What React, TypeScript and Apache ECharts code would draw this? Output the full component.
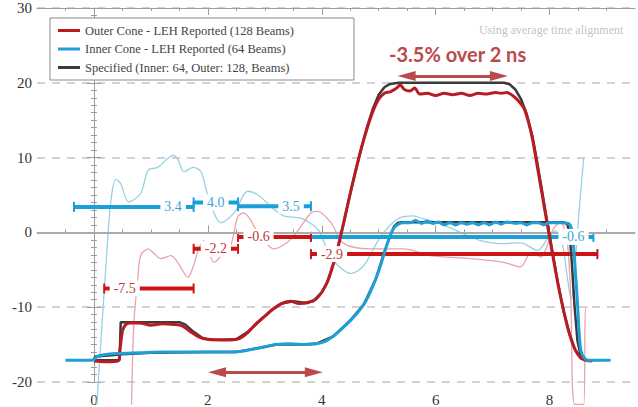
import React, { useEffect, useRef } from "react";
import * as echarts from "echarts";

const OUTER_NAME = "Outer Cone - LEH Reported (128 Beams)";
const INNER_NAME = "Inner Cone - LEH Reported (64 Beams)";
const SPEC_NAME = "Specified (Inner: 64, Outer: 128, Beams)";

const outerMeasured: number[][] = [
  [0.0, -17.2], [0.2, -17.3], [0.42, -17.2], [0.46, -15.5], [0.5, -13.2], [0.56, -12.3], [0.65, -12.1],
  [0.8, -12.1], [1.0, -12.4], [1.2, -12.2], [1.4, -12.3], [1.55, -12.5], [1.7, -13.3], [1.85, -14.0],
  [2.0, -14.3], [2.3, -14.4], [2.55, -14.2], [2.7, -13.4], [2.85, -12.2], [3.0, -11.2], [3.15, -10.2],
  [3.3, -9.5], [3.45, -9.2], [3.6, -9.5], [3.75, -9.4], [3.9, -8.9], [4.0, -8.0], [4.1, -6.6],
  [4.2, -4.3], [4.3, -1.5], [4.4, 1.8], [4.5, 5.2], [4.6, 8.4], [4.7, 11.4], [4.8, 14.0], [4.9, 16.2],
  [5.0, 17.8], [5.1, 18.6], [5.2, 18.8], [5.3, 19.2], [5.38, 19.7], [5.45, 19.1], [5.55, 18.9],
  [5.63, 19.3], [5.72, 18.5], [5.85, 18.6], [6.0, 18.3], [6.15, 18.6], [6.3, 18.4], [6.45, 18.6],
  [6.6, 18.3], [6.75, 18.6], [6.9, 18.5], [7.05, 18.7], [7.15, 18.6], [7.25, 18.7], [7.35, 18.3],
  [7.45, 17.6], [7.55, 16.6], [7.62, 15.0], [7.7, 12.5], [7.78, 9.0], [7.86, 5.5], [7.95, 1.5],
  [8.05, -2.8], [8.15, -7.0], [8.25, -10.6], [8.35, -13.6], [8.45, -15.7], [8.55, -16.8],
  [8.65, -17.1], [8.75, -17.2],
];

const outerSpecified: number[][] = [
  [0.0, -17.1], [0.45, -17.1], [0.47, -12.0], [0.6, -12.0], [1.5, -12.0], [1.6, -12.3], [1.75, -13.3],
  [1.9, -14.1], [2.05, -14.4], [2.5, -14.3], [2.7, -13.3], [2.9, -11.9], [3.1, -10.5], [3.3, -9.5],
  [3.5, -9.2], [3.7, -9.4], [3.85, -9.2], [4.0, -8.0], [4.1, -6.6], [4.2, -4.3], [4.3, -1.5],
  [4.4, 1.8], [4.5, 5.2], [4.6, 8.4], [4.7, 11.4], [4.8, 14.2], [4.9, 16.6], [5.0, 18.4], [5.1, 19.4],
  [5.2, 19.85], [5.35, 20.0], [7.2, 20.0], [7.3, 19.8], [7.4, 19.1], [7.5, 17.8], [7.6, 15.8],
  [7.7, 12.8], [7.78, 9.5], [7.86, 5.9], [7.95, 1.8], [8.05, -2.6], [8.15, -6.9], [8.25, -10.6],
  [8.35, -13.6], [8.45, -15.7], [8.55, -16.8], [8.65, -17.1], [8.75, -17.1],
];

const innerMeasured: number[][] = [
  [-0.5, -17.1], [-0.1, -17.1], [0.0, -17.0], [0.05, -16.6], [0.15, -16.4], [0.4, -16.2], [0.8, -16.1],
  [1.2, -16.0], [1.6, -16.0], [2.0, -16.0], [2.4, -16.0], [2.6, -15.9], [2.8, -15.6], [3.0, -15.3],
  [3.2, -15.0], [3.45, -14.9], [3.7, -15.0], [3.9, -14.9], [4.05, -14.6], [4.2, -13.9], [4.35, -12.9],
  [4.5, -11.8], [4.62, -10.8], [4.74, -9.6], [4.85, -8.0], [4.95, -6.2], [5.05, -4.0], [5.15, -1.5],
  [5.25, 0.4], [5.32, 1.0], [5.42, 1.3], [5.55, 1.3], [5.65, 1.6], [5.75, 1.2], [5.85, 1.5], [5.95, 1.2],
  [6.05, 1.4], [6.15, 1.0], [6.25, 1.3], [6.35, 1.0], [6.45, 1.3], [6.55, 1.1], [6.65, 1.3], [6.75, 1.0],
  [6.85, 1.3], [6.95, 1.0], [7.05, 1.4], [7.15, 1.1], [7.25, 1.4], [7.4, 1.2], [7.5, 1.3], [7.6, 1.0],
  [7.7, 1.3], [7.8, 1.3], [7.9, 1.0], [8.0, 1.3], [8.1, 1.3], [8.2, 1.3], [8.33, 1.2], [8.38, 0.6],
  [8.42, -1.8], [8.46, -6.0], [8.49, -9.5], [8.52, -13.5], [8.55, -15.8], [8.6, -16.7], [8.68, -17.1],
  [9.07, -17.1],
];

const innerSpecified: number[][] = [
  [0.0, -17.1], [0.02, -16.6], [0.2, -16.5], [0.5, -16.3], [1.0, -16.1], [2.0, -16.0], [2.5, -16.0],
  [2.8, -15.6], [3.2, -15.0], [3.6, -15.0], [3.9, -14.9], [4.2, -13.9], [4.5, -11.8], [4.74, -9.6],
  [4.95, -6.2], [5.1, -2.6], [5.2, -0.5], [5.27, 0.8], [5.33, 1.25], [5.4, 1.35], [8.25, 1.35],
  [8.31, 1.1], [8.35, 0.0], [8.39, -4.0], [8.44, -10.0], [8.49, -14.5], [8.55, -16.6], [8.62, -17.1],
];

const innerDeviation: number[][] = [
  [0.05, -23], [0.21, -4.4], [0.3, 4.4], [0.39, 7.1], [0.47, 6.5], [0.61, 4.1], [0.82, 5.2], [0.95, 8.3],
  [1.12, 8.7], [1.39, 10.3], [1.47, 9.8], [1.58, 8.1], [1.74, 8.7], [1.88, 8.1], [2.02, 4.4], [2.23, 1.3],
  [2.46, 2.6], [2.7, 5.5], [2.88, 5.0], [3.16, 3.1], [3.33, 2.2], [3.63, 1.9], [3.81, 1.2], [3.95, 0.2],
  [4.12, -2.7], [4.28, -4.4], [4.51, -5.5], [4.74, -4.4], [5.04, -0.5], [5.33, 1.8], [5.61, 2.2],
  [5.79, 1.8], [6.04, 1.3], [6.26, 0.6], [6.49, -0.2], [6.79, -1.1], [7.14, -1.5], [7.49, -1.4],
  [7.79, -2.4], [7.96, -0.9], [8.1, 0.2], [8.23, -1.8], [8.32, -6.5], [8.38, -9.0], [8.45, -4.0],
  [8.52, 3.0], [8.6, 10.0],
];

const outerDeviation: number[][] = [
  [0.66, -23], [0.7, -12.3], [0.77, -6.1], [0.82, -3.1], [0.95, -2.2], [1.05, -2.8], [1.18, -3.5],
  [1.35, -3.1], [1.47, -4.0], [1.65, -6.0], [1.75, -4.4], [1.84, -2.2], [1.93, -1.1], [2.11, -4.0],
  [2.28, -2.7], [2.4, -1.8], [2.53, 2.2], [2.63, 2.6], [2.88, 0.0], [3.16, -2.2], [3.46, -0.9],
  [3.81, 2.6], [3.93, 2.8], [4.16, 1.3], [4.39, -1.5], [4.86, -2.2], [5.44, -2.2], [5.91, -3.1],
  [6.61, -3.5], [7.19, -4.0], [7.49, -4.6], [7.67, -2.7], [7.84, -3.3], [8.07, 0.5], [8.19, 1.3],
  [8.3, -0.5], [8.37, -8.3], [8.44, -23], [8.6, -23], [8.63, -10.0], [8.67, -10.0],
];

// Segment averages: [start, end, mean]
const innerAverages: number[][] = [
  [-0.35, 1.75, 3.4], [1.75, 2.53, 4.0], [2.53, 3.81, 3.5], [3.81, 8.77, -0.6],
];
const innerLabelAt: number[] = [1.39, 2.14, 3.46, 8.42];
const outerAverages: number[][] = [
  [0.18, 1.75, -7.5], [1.75, 2.53, -2.2], [2.53, 3.81, -0.6], [3.81, 8.84, -2.9],
];
const outerLabelAt: number[] = [0.54, 2.14, 2.89, 4.18];

const xMajorTicks: number[] = [0, 2, 4, 6, 8];
const xMinorTicks: number[] = [-0.5, 0.5, 1, 1.5, 2.5, 3, 3.5, 4.5, 5, 5.5, 6.5, 7, 7.5, 8.5, 9];
const topArrow: number[][] = [[5.49, 20.9], [7.11, 20.9]];
const bottomArrow: number[][] = [[2.16, -18.7], [3.86, -18.7]];

const SERIF = "'Liberation Serif', 'Times New Roman', serif";
const AXIS_GRAY = "#9c9c9c";
const RED = "#b81c22";
const BLUE = "#1e9fd6";
const BLACK = "#3a3a3a";
const LIGHT_RED = "#eba2a8";
const LIGHT_BLUE = "#98d0e4";
const NOTE_RED = "#bb4a4d";

function averageBars(name: string, data: number[][], color: string) {
  return {
    type: "custom",
    name,
    z: 4,
    clip: false,
    data: data,
    encode: { x: [0, 1], y: 2 },
    renderItem: (_params: any, api: any) => {
      const y = api.value(2);
      const a = api.coord([api.value(0), y]);
      const b = api.coord([api.value(1), y]);
      return {
        type: "group",
        children: [
          { type: "line", shape: { x1: a[0], y1: a[1], x2: b[0], y2: b[1] }, style: { stroke: color, lineWidth: 4 } },
          { type: "line", shape: { x1: a[0], y1: a[1] - 5, x2: a[0], y2: a[1] + 5 }, style: { stroke: color, lineWidth: 2 } },
          { type: "line", shape: { x1: b[0], y1: b[1] - 5, x2: b[0], y2: b[1] + 5 }, style: { stroke: color, lineWidth: 2 } },
        ],
      };
    },
  };
}

function averageLabels(name: string, data: number[][], labelAt: number[], textColor: string) {
  return {
    type: "custom",
    name,
    z: 8,
    clip: false,
    data: data.map((d, i) => [labelAt[i], d[2]]),
    encode: { x: 0, y: 1 },
    renderItem: (_params: any, api: any) => {
      const y = api.value(1);
      const c = api.coord([api.value(0), y]);
      return {
        type: "text",
        x: c[0],
        y: c[1],
        style: {
          text: y.toFixed(1),
          fill: textColor,
          fontSize: 14,
          fontFamily: SERIF,
          align: "center",
          verticalAlign: "middle",
          backgroundColor: "#ffffff",
          padding: [1, 4],
        },
      };
    },
  };
}

function xAxisDef(position: string, ticks: number[], length: number, showLine: boolean, showLabels: boolean) {
  return {
    type: "value",
    min: -1,
    max: 9.5,
    position,
    axisLine: { show: showLine, lineStyle: { color: AXIS_GRAY, width: 1 } },
    axisTick: { show: true, inside: true, length, customValues: ticks, lineStyle: { color: AXIS_GRAY, width: 1 } },
    axisLabel: showLabels
      ? { show: true, customValues: xMajorTicks, margin: 10, fontSize: 15, fontFamily: SERIF, color: "#333" }
      : { show: false },
    splitLine: { show: false },
  };
}

function yAxisDef(position: string, showLabels: boolean) {
  return {
    type: "value",
    min: -20,
    max: 30,
    interval: 10,
    position,
    axisLine: { show: true, lineStyle: { color: AXIS_GRAY, width: 1 } },
    axisTick: { show: true, inside: true, length: 7, lineStyle: { color: AXIS_GRAY, width: 1 } },
    minorTick: { show: true, splitNumber: 10, length: 3, lineStyle: { color: AXIS_GRAY, width: 1 } },
    axisLabel: showLabels
      ? { show: true, margin: 5, fontSize: 15, fontFamily: SERIF, color: "#333" }
      : { show: false },
    splitLine: showLabels
      ? { show: true, lineStyle: { color: "#c4c4c4", width: 1.5, type: [8, 7] } }
      : { show: false },
  };
}

export default function App() {
  const ref = useRef<HTMLDivElement>(null);
  useEffect(() => {
    if (!ref.current) return;
    const chart = echarts.init(ref.current, null, { renderer: "svg" });
    chart.setOption({
      animation: false,
      backgroundColor: "#ffffff",
      textStyle: { fontFamily: SERIF },
      grid: { left: 37, right: 3, top: 8, bottom: 19, containLabel: false },
      legend: {
        show: true,
        left: 50,
        top: 18,
        orient: "vertical",
        icon: "rect",
        itemWidth: 22,
        itemHeight: 3,
        itemGap: 5.5,
        padding: [6, 60, 6, 8],
        borderColor: "#8a8a8a",
        borderWidth: 1,
        backgroundColor: "#ffffff",
        selectedMode: false,
        textStyle: { fontFamily: SERIF, fontSize: 12.5, color: "#444" },
        data: [OUTER_NAME, INNER_NAME, SPEC_NAME],
      },
      xAxis: [
        xAxisDef("bottom", xMajorTicks, 7, true, true),
        xAxisDef("bottom", xMinorTicks, 3, false, false),
        xAxisDef("top", xMajorTicks, 7, true, false),
        xAxisDef("top", xMinorTicks, 3, false, false),
      ],
      yAxis: [yAxisDef("left", true), yAxisDef("right", false)],
      graphic: [
        {
          type: "text",
          left: 479,
          top: 24,
          style: { text: "Using average time alignment", fill: "#c4c4c4", fontSize: 12, fontFamily: SERIF },
        },
        {
          type: "text",
          left: 389,
          top: 44,
          style: { text: "-3.5% over 2 ns", fill: NOTE_RED, fontSize: 20, fontWeight: "bold", fontFamily: "Lato" },
        },
      ],
      series: [
        {
          type: "line",
          name: "reference",
          data: [],
          z: 1,
          markLine: {
            silent: true,
            symbol: "none",
            label: { show: false },
            lineStyle: { color: "#aaaaaa", width: 2, type: "solid" },
            data: [{ yAxis: 0 }],
          },
        },
        {
          type: "line",
          name: "inner deviation",
          data: innerDeviation,
          showSymbol: false,
          smooth: 0.3,
          clip: false,
          z: 2,
          lineStyle: { color: LIGHT_BLUE, width: 1.3 },
        },
        {
          type: "line",
          name: "outer deviation",
          data: outerDeviation,
          showSymbol: false,
          smooth: 0.3,
          clip: false,
          z: 2,
          lineStyle: { color: LIGHT_RED, width: 1.3 },
        },
        averageBars("inner averages", innerAverages, "#1a9fdb"),
        averageBars("outer averages", outerAverages, "#cc1414"),
        {
          type: "line",
          name: SPEC_NAME,
          data: outerSpecified,
          showSymbol: false,
          z: 5,
          color: BLACK,
          lineStyle: { color: BLACK, width: 2.5 },
        },
        {
          type: "line",
          name: SPEC_NAME,
          data: innerSpecified,
          showSymbol: false,
          z: 5,
          color: BLACK,
          lineStyle: { color: BLACK, width: 2.5 },
        },
        {
          type: "line",
          name: OUTER_NAME,
          data: outerMeasured,
          showSymbol: false,
          smooth: 0.3,
          z: 6,
          color: RED,
          lineStyle: { color: RED, width: 3 },
        },
        {
          type: "line",
          name: INNER_NAME,
          data: innerMeasured,
          showSymbol: false,
          smooth: 0.3,
          z: 6,
          color: BLUE,
          lineStyle: { color: BLUE, width: 3 },
        },
        averageLabels("inner average labels", innerAverages, innerLabelAt, "#3ea6d6"),
        averageLabels("outer average labels", outerAverages, outerLabelAt, "#b83a3a"),
        {
          type: "line",
          name: "arrows",
          data: [],
          z: 7,
          markLine: {
            silent: true,
            symbol: ["triangle", "triangle"],
            symbolSize: [10, 18],
            label: { show: false },
            lineStyle: { color: NOTE_RED, width: 3, type: "solid" },
            data: [
              [{ coord: topArrow[0] }, { coord: topArrow[1] }],
              [{ coord: bottomArrow[0] }, { coord: bottomArrow[1] }],
            ],
          },
        },
      ],
    });
    return () => chart.dispose();
  }, []);
  return <div ref={ref} style={{ position: "absolute", left: 0, top: 0, width: 638, height: 407 }} />;
}
